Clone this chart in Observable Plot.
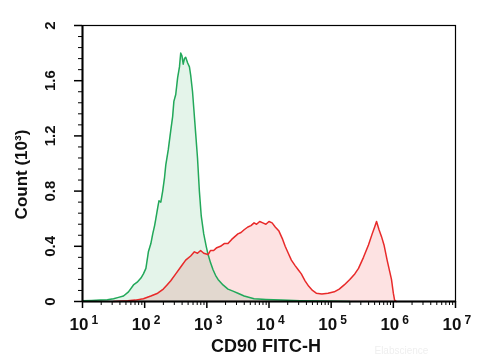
<!DOCTYPE html>
<html><head><meta charset="utf-8">
<script src="https://cdn.jsdelivr.net/npm/d3@7"></script>
<script src="https://cdn.jsdelivr.net/npm/@observablehq/plot@0.6"></script>
<style>body{margin:0;background:#fff}svg{display:block}</style>
</head><body><div id="chart"></div>
<script>
// Isotype control (green): [log10 fluorescence, count (10^3)]
const greenExp = [1.0,1.15,1.29,1.4,1.5,1.58,1.66,1.74,1.82,1.88,1.94,1.98,2.02,2.06,2.1,2.13,2.16,2.18,2.21,2.23,2.26,2.29,2.32,2.34,2.38,2.42,2.45,2.47,2.5,2.53,2.56,2.58,2.6,2.62,2.64,2.66,2.69,2.72,2.74,2.77,2.79,2.82,2.85,2.88,2.91,2.95,2.99,3.02,3.06,3.1,3.14,3.18,3.26,3.34,3.42,3.5,3.6,3.76,3.95,4.19,4.5,4.79,5.1,5.3];
const greenCount = [0.005,0.008,0.01,0.012,0.02,0.03,0.04,0.07,0.12,0.14,0.17,0.2,0.24,0.36,0.42,0.49,0.55,0.6,0.68,0.73,0.72,0.8,0.9,0.99,1.1,1.24,1.34,1.45,1.5,1.62,1.7,1.8,1.78,1.72,1.76,1.77,1.73,1.7,1.64,1.52,1.4,1.22,1.04,0.8,0.62,0.49,0.4,0.34,0.28,0.23,0.19,0.16,0.12,0.09,0.075,0.06,0.04,0.02,0.015,0.01,0.006,0.003,0.001,0];
// CD90 stained (red)
const redExp = [1.5,1.73,1.85,1.98,2.1,2.21,2.3,2.36,2.42,2.5,2.58,2.66,2.74,2.8,2.85,2.9,2.95,3.02,3.06,3.11,3.16,3.22,3.28,3.34,3.4,3.45,3.5,3.55,3.6,3.66,3.71,3.76,3.8,3.85,3.9,3.95,4.0,4.05,4.1,4.16,4.22,4.26,4.31,4.36,4.42,4.47,4.52,4.58,4.64,4.7,4.76,4.85,4.95,5.05,5.13,5.21,5.3,5.38,5.44,5.52,5.6,5.66,5.7,5.73,5.77,5.81,5.85,5.9,5.94,5.97,6.0,6.02,6.05];
const redCount = [0,0.005,0.01,0.02,0.04,0.06,0.09,0.12,0.15,0.2,0.25,0.3,0.33,0.36,0.35,0.37,0.35,0.34,0.37,0.37,0.39,0.4,0.42,0.42,0.45,0.47,0.49,0.5,0.52,0.54,0.55,0.57,0.56,0.58,0.57,0.56,0.58,0.57,0.54,0.51,0.45,0.4,0.35,0.3,0.26,0.23,0.2,0.15,0.11,0.08,0.06,0.055,0.06,0.07,0.09,0.12,0.16,0.2,0.24,0.32,0.41,0.49,0.54,0.58,0.52,0.47,0.41,0.3,0.22,0.16,0.06,0.01,0];

const xMajor = [1e1,1e2,1e3,1e4,1e5,1e6,1e7];
const xExponents = ["1","2","3","4","5","6","7"];
const yMajor = [0,0.4,0.8,1.2,1.6,2];
const yLabels = ["0","0.4","0.8","1.2","1.6","2"];
const xTitle = "CD90 FITC-H";
const yTitle = "Count (10³)";
const watermark = "Elabscience";

const green = greenExp.map((e,i)=>({x:Math.pow(10,e), y:greenCount[i]}));
const red = redExp.map((e,i)=>({x:Math.pow(10,e), y:redCount[i]}));
const xMinor = [];
for (let d=1; d<7; d++) for (let m=2; m<10; m++) xMinor.push(m*Math.pow(10,d));
const yMinor = d3.range(0, 2.0001, 0.08).filter(v => !yMajor.some(t => Math.abs(t-v)<1e-6));
const xTicks = xMajor.map((v,i)=>({x:v, e:xExponents[i]}));
const yTicks = yMajor.map((v,i)=>({y:v, t:yLabels[i]}));

const font = "Liberation Sans, Arial, sans-serif";
const chart = Plot.plot({
  width: 480, height: 360,
  marginLeft: 82, marginRight: 25, marginTop: 25, marginBottom: 59,
  style: {fontFamily: font, background: "#fff"},
  x: {type: "log", domain: [10, 1e7], label: null},
  y: {domain: [0, 2], label: null},
  marks: [
    Plot.areaY(green, {x:"x", y:"y", fill:"#e4f4ea", mixBlendMode:"multiply"}),
    Plot.areaY(red, {x:"x", y:"y", fill:"#fde2e2", mixBlendMode:"multiply"}),
    Plot.lineY(green, {x:"x", y:"y", stroke:"#22a85a", strokeWidth:1.5}),
    Plot.lineY(red, {x:"x", y:"y", stroke:"#e82a2a", strokeWidth:1.5}),
    Plot.frame({stroke:"#000", strokeWidth:1.2}),
    Plot.ruleX([10], {stroke:"#000", strokeWidth:2}),
    Plot.ruleY([0], {stroke:"#000", strokeWidth:2}),
    Plot.axisX({ticks: xMajor, tickSize: 7, tickFormat: () => "", strokeWidth: 1.5, label: null}),
    Plot.axisX({ticks: xMinor, tickSize: 4, tickFormat: () => "", label: null}),
    Plot.axisY({ticks: yMajor, tickSize: 8, tickFormat: () => "", strokeWidth: 1.5, label: null}),
    Plot.axisY({ticks: yMinor, tickSize: 4, tickFormat: () => "", label: null}),
    Plot.text(xTicks, {x:"x", text:() => "10", frameAnchor:"bottom", textAnchor:"end", lineAnchor:"bottom", dx:6, dy:28, fontSize:17, fontWeight:"bold", fill:"#111"}),
    Plot.text(xTicks, {x:"x", text:"e", frameAnchor:"bottom", textAnchor:"start", lineAnchor:"bottom", dx:9, dy:22, fontSize:12, fontWeight:"bold", fill:"#111"}),
    Plot.text(yTicks, {y:"y", text:"t", frameAnchor:"left", textAnchor:"middle", rotate:-90, dx:-32, fontSize:15, fontWeight:"bold", fill:"#111"}),
    Plot.text([yTitle], {y:0.92, frameAnchor:"left", textAnchor:"middle", rotate:-90, dx:-61, fontSize:17, fontWeight:"bold", fill:"#111", letterSpacing:"0.3px"}),
    Plot.text([xTitle], {x:Math.pow(10,3.95), frameAnchor:"bottom", lineAnchor:"bottom", dy:50, fontSize:18, fontWeight:"bold", fill:"#111", letterSpacing:"-0.3px"}),
    Plot.text([watermark], {x:Math.pow(10,6.13), frameAnchor:"bottom", lineAnchor:"bottom", dy:52, fontSize:10, fill:"#efefef"})
  ]
});
d3.select(chart).selectAll("[aria-label=area] path").style("mix-blend-mode","multiply");
document.getElementById("chart").appendChild(chart);
</script></body></html>
